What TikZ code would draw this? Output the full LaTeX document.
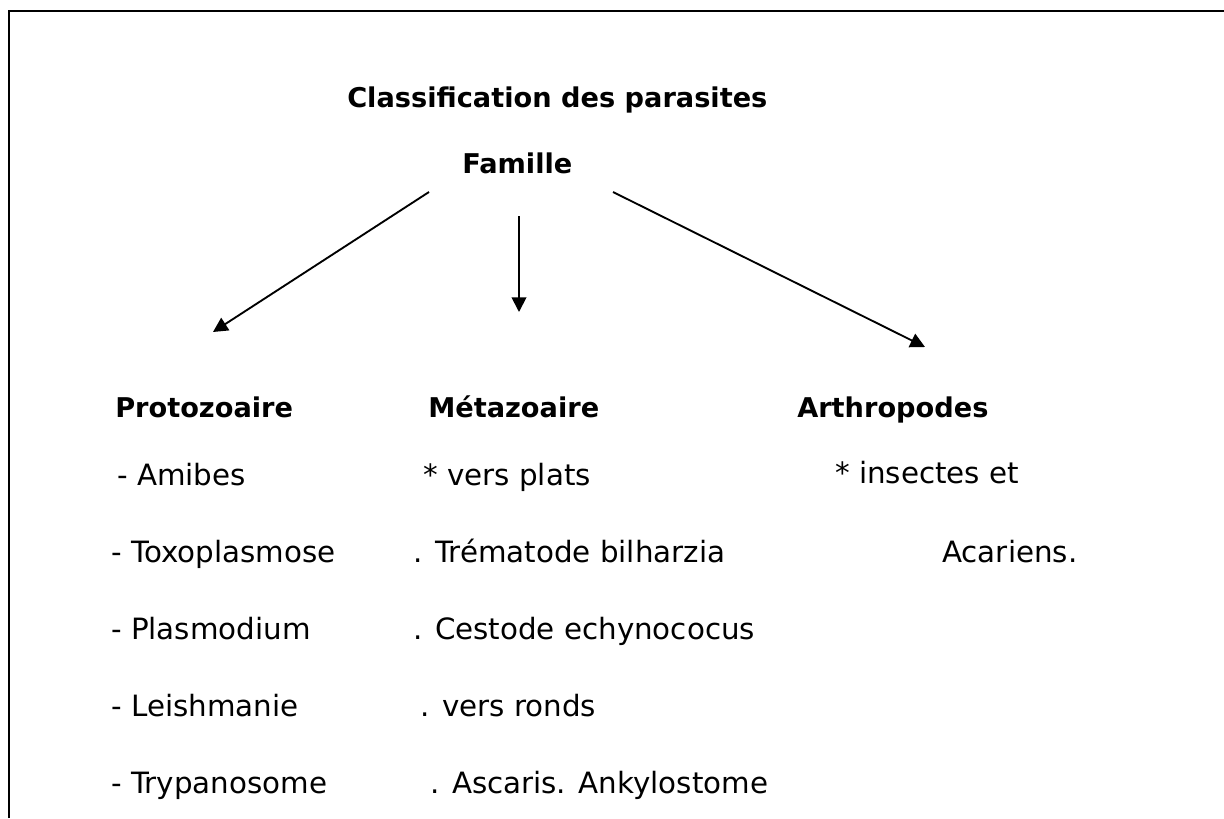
\documentclass[tikz,border=0pt]{standalone}
\usepackage{fontspec}
\setmainfont{DejaVu Sans}
\usetikzlibrary{arrows.meta}
\begin{document}
\begin{tikzpicture}[x=0.75pt,y=-0.75pt,
  txt/.style={anchor=base west,inner sep=0pt,font=\fontsize{22}{26}\selectfont},
  hdr/.style={anchor=base west,inner sep=0pt,font=\fontsize{20.4}{24}\selectfont\bfseries},
  arr/.style={line width=1.4pt,-{Triangle[length=11pt,width=11pt]}}]
\useasboundingbox (0,0) rectangle (1224,818);
\draw[line width=1.6pt] (9,818) -- (9,11) -- (1224,11);
% titles
\node[hdr] (title) at (347,107) {Classification des parasites};
\node[hdr] (fam) at (462,173) {Famille};
% column headers
\node[hdr] (proto) at (115,417) {Protozoaire};
\node[hdr] (meta) at (428,417) {Métazoaire};
\node[hdr] (arth) at (797,417) {Arthropodes};
% arrow anchors
\coordinate (s1) at (429,192);
\coordinate (e1) at (213,332);
\coordinate (s2) at (519,216);
\coordinate (e2) at (519,312);
\coordinate (s3) at (613,192);
\coordinate (e3) at (925,347);
\draw[arr] (s1) -- (e1);
\draw[arr] (s2) -- (e2);
\draw[arr] (s3) -- (e3);
% protozoaires
\node[txt] (p1) at (117,485) {- Amibes};
\node[txt] (p2) at (111,562) {- Toxoplasmose};
\node[txt] (p3) at (111,639) {- Plasmodium};
\node[txt] (p4) at (111,716) {- Leishmanie};
\node[txt] (p5) at (111,793) {- Trypanosome};
% metazoaires
\node[txt] (m1) at (423,485) {* vers plats};
\node[txt] (m2) at (413,562) {. Trématode bilharzia};
\node[txt] (m3) at (413,639) {. Cestode echynococus};
\node[txt] (m4) at (420,716) {. vers ronds};
\node[txt] (m5) at (430,793) {. Ascaris. Ankylostome};
% arthropodes
\node[txt] (a1) at (835,483) {* insectes et};
\node[txt] (a2) at (942,562) {Acariens.};
\end{tikzpicture}
\end{document}
